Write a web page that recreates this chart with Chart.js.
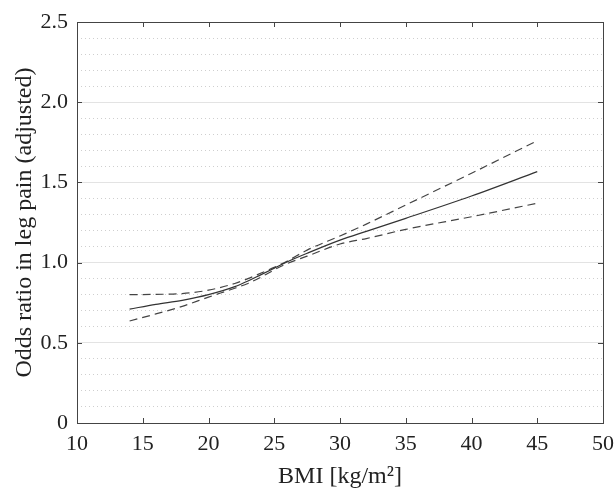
<!DOCTYPE html>
<html><head><meta charset="utf-8">
<script src="https://cdn.jsdelivr.net/npm/chart.js@4.4.1/dist/chart.umd.min.js"></script>
<style>html,body{margin:0;padding:0;background:#fff}#wrap{width:616px;height:491px}</style>
</head><body><div id="wrap"><canvas id="c" width="616" height="491"></canvas></div>
<script>
const bmi      = [14, 16, 18, 20, 22, 23, 24, 25, 26, 27.5, 30, 32, 35, 40, 45];
const orMain   = [0.71, 0.74, 0.765, 0.80, 0.85, 0.885, 0.925, 0.965, 1.005, 1.058, 1.14, 1.195, 1.276, 1.415, 1.567];
const orUpper  = [0.80, 0.802, 0.807, 0.828, 0.87, 0.90, 0.935, 0.97, 1.01, 1.078, 1.166, 1.24, 1.359, 1.557, 1.76];
const orLower  = [0.636, 0.68, 0.727, 0.785, 0.84, 0.87, 0.91, 0.955, 0.995, 1.04, 1.116, 1.15, 1.207, 1.286, 1.37];
const xTicks = [10, 15, 20, 25, 30, 35, 40, 45, 50];
const yTicks = [0, 0.5, 1.0, 1.5, 2.0, 2.5];

const pts = arr => bmi.map((x, i) => ({x, y: arr[i]}));
const FONT = "'Liberation Serif', 'DejaVu Serif', serif";
const isMajor = v => Math.abs(v * 2 - Math.round(v * 2)) < 1e-6;

const frame = {
  id: 'frame',
  afterDraw(chart) {
    const {ctx, chartArea: a, scales} = chart;
    ctx.save();
    ctx.strokeStyle = '#444';
    ctx.lineWidth = 1;
    ctx.strokeRect(a.left + 0.5, a.top + 0.5, a.right - a.left, a.bottom - a.top);
    const L = 5;
    ctx.beginPath();
    xTicks.forEach(v => {
      const px = Math.round(scales.x.getPixelForValue(v)) + 0.5;
      ctx.moveTo(px, a.bottom); ctx.lineTo(px, a.bottom - L);
      ctx.moveTo(px, a.top); ctx.lineTo(px, a.top + L);
    });
    yTicks.forEach(v => {
      const py = Math.round(scales.y.getPixelForValue(v)) + 0.5;
      ctx.moveTo(a.left, py); ctx.lineTo(a.left + L, py);
      ctx.moveTo(a.right, py); ctx.lineTo(a.right - L, py);
    });
    ctx.stroke();
    ctx.restore();
  }
};

const common = {fill: false, pointRadius: 0, borderWidth: 1.2, borderColor: '#333', showLine: true, cubicInterpolationMode: 'monotone'};
const dashed = {borderColor: '#444', borderDash: [8, 5]};

new Chart(document.getElementById('c'), {
  type: 'scatter',
  data: {
    datasets: [
      Object.assign({label: 'OR', data: pts(orMain)}, common),
      Object.assign({label: 'Upper', data: pts(orUpper)}, common, dashed),
      Object.assign({label: 'Lower', data: pts(orLower)}, common, dashed)
    ]
  },
  options: {
    responsive: false,
    animation: false,
    layout: {padding: {top: 22, right: 13, left: 10, bottom: 0}},
    plugins: {legend: {display: false}, tooltip: {enabled: false}},
    scales: {
      x: {
        type: 'linear', min: 10, max: 50,
        afterBuildTicks: s => { s.ticks = xTicks.map(v => ({value: v})); },
        afterFit: s => { s.height = 68; s.paddingLeft = 0; s.paddingRight = 0; },
        grid: {display: false, drawTicks: false},
        border: {display: false},
        ticks: {color: '#222', font: {family: FONT, size: 22}, padding: 8, maxRotation: 0},
        title: {display: true, text: 'BMI [kg/m\u00B2]', color: '#222', font: {family: FONT, size: 24}, padding: {top: 4, bottom: 0}}
      },
      yMinor: {
        type: 'linear', position: 'left', min: 0, max: 2.5,
        afterBuildTicks: s => { const t = []; for (let i = 0; i <= 25; i++) t.push({value: i / 10}); s.ticks = t; },
        afterFit: s => { s.width = 0; },
        ticks: {display: false},
        border: {display: false, dash: [1, 3]},
        grid: {drawTicks: false, lineWidth: 1, color: c => (c.tick && isMajor(c.tick.value)) ? 'rgba(0,0,0,0)' : '#cfcfcf'}
      },
      y: {
        type: 'linear', position: 'left', min: 0, max: 2.5,
        afterBuildTicks: s => { s.ticks = yTicks.map(v => ({value: v})); },
        afterFit: s => { s.width = 67; s.paddingTop = 0; s.paddingBottom = 0; },
        grid: {drawTicks: false, color: '#e3e3e3', lineWidth: 1},
        border: {display: false},
        ticks: {color: '#222', font: {family: FONT, size: 22}, padding: 9,
          callback: v => v === 0 ? '0' : v.toFixed(1)},
        title: {display: true, text: 'Odds ratio in leg pain (adjusted)', color: '#222', font: {family: FONT, size: 24}, padding: {top: 0, bottom: 0}}
      }
    }
  },
  plugins: [frame]
});
</script></body></html>
